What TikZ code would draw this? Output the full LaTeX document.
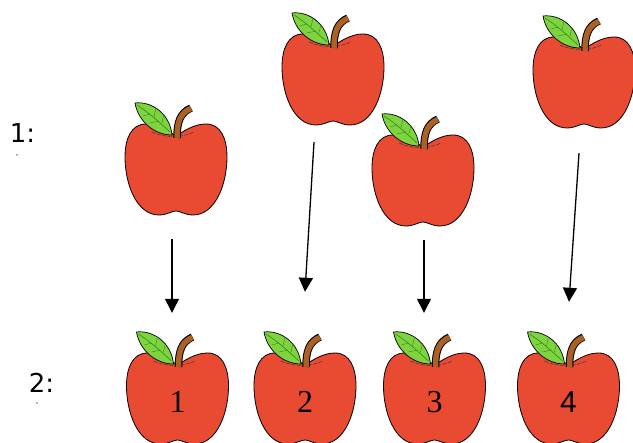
\documentclass[tikz,border=0pt]{standalone}
\usepackage{fontspec}
\setmainfont{Liberation Serif}
\newfontfamily\rowfont{DejaVu Sans}
\newfontfamily\sansnum{Liberation Sans}
\usetikzlibrary{
  arrows.meta
}

\definecolor{appleRed}{RGB}{233,74,50}
\definecolor{leafGreen}{RGB}{125,212,62}
\definecolor{veinGreen}{RGB}{55,135,30}
\definecolor{stemBrown}{RGB}{172,96,36}

\tikzset{
  drop/.style={-{Triangle[width=14pt,length=14pt]},line width=1.3pt},
  rowlabel/.style={font=\rowfont\fontsize{26}{26}\selectfont,inner sep=0pt},
  applenum/.style={font=\fontsize{32}{32}\selectfont,inner sep=0pt},
  pics/apple/.default={},
  pics/apple/.style={
    code={
      % body
      \draw[fill=appleRed,line width=0.8pt]
        (0,33) .. controls (8,38) and (18,45) .. (30,45)
        .. controls (45,45) and (51,30) .. (51,12)
        .. controls (51,-14) and (40,-46) .. (17,-46)
        .. controls (9,-46) and (4,-42) .. (0,-42)
        .. controls (-4,-42) and (-9,-46) .. (-17,-46)
        .. controls (-40,-46) and (-51,-14) .. (-51,12)
        .. controls (-51,30) and (-45,45) .. (-30,45)
        .. controls (-18,45) and (-8,38) .. (0,33) -- cycle;
      % crease under the stem
      \draw[black!75,line width=0.6pt,dash pattern=on 4pt off 1.5pt]
        (-24,37) .. controls (-12,31) and (6,31) .. (18,37);
      % leaf
      \draw[fill=leafGreen,line width=0.7pt]
        (-4,34) .. controls (-6,55) and (-24,68) .. (-41,66)
        .. controls (-38,48) and (-22,34) .. (-4,34) -- cycle;
      \draw[veinGreen,line width=0.6pt]
        (-6,37) .. controls (-18,48) and (-28,57) .. (-39,64);
      \draw[veinGreen,line width=0.4pt]
        (-14,46) -- (-12,55) (-22,52) -- (-20,61) (-17,48) -- (-26,46) (-26,55) -- (-33,53);
      % stem
      \draw[black,line width=7.5pt] (1,31) .. controls (1,47) and (4,56) .. (15,61);
      \draw[stemBrown,line width=5.5pt] (1,31) .. controls (1,47) and (4,56) .. (15,60.6);
      \node[inner sep=0pt,minimum width=102pt,minimum height=90pt] (-body) at (0,0) {};
      \node[applenum] at (0,-4) {#1};
    }
  }
}

\begin{document}
\begin{tikzpicture}[x=1pt,y=1pt]
  \useasboundingbox (0,0) rectangle (633,443);

  % first row
  \node[rowlabel] (row1) at (22.5,310) {1:};
  \fill[black!45] (17,288) circle (1pt);
  \pic (a1) at (176,274) {apple};
  \pic (a2) at (333,364) {apple};
  \pic (a3) at (423,263) {apple};
  \pic (a4) at (584,361) {apple};

  % second row
  \node[rowlabel] (row2) at (41.5,60.5) {2:};
  \fill[black!45] (37,40) circle (1pt);
  \pic (b1) at (177.5,45) {apple=1};
  \pic (b2) at (305,45) {apple=2};
  \pic (b3) at (434.5,45) {apple=3};
  \pic (b4) at (568.5,45) {apple={\sansnum\fontsize{30}{30}\selectfont 4}};

  \draw[drop] ([shift={(-4,-25)}]a1-body.south) -- ([shift={(-5.5,40)}]b1-body.north);
  \draw[drop] ([shift={(-19,-18)}]a2-body.south) -- ([shift={(0,61)}]b2-body.north);
  \draw[drop] ([shift={(1,-15)}]a3-body.south) -- ([shift={(-10.5,40)}]b3-body.north);
  \draw[drop] ([shift={(-5,-26)}]a4-body.south) -- ([shift={(0.5,51)}]b4-body.north);
\end{tikzpicture}
\end{document}
